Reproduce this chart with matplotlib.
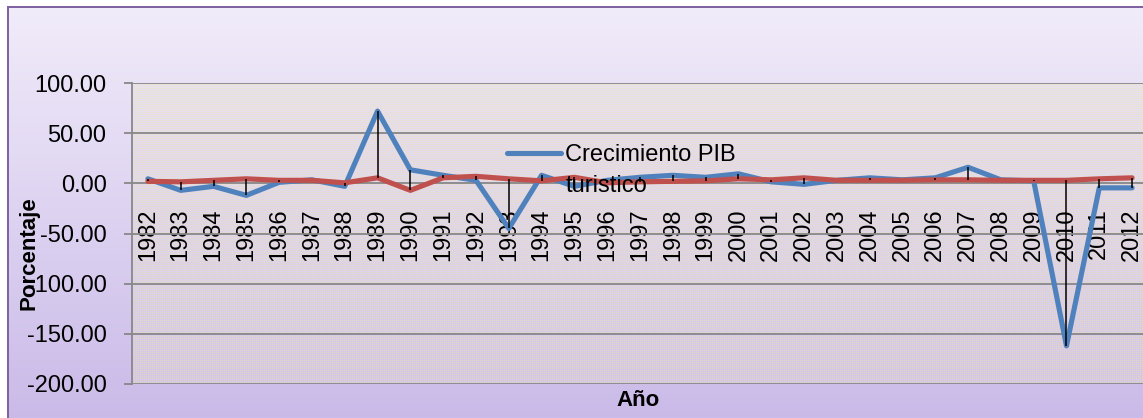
import numpy as np
import matplotlib
matplotlib.use("Agg")
import matplotlib.pyplot as plt
from matplotlib.ticker import FuncFormatter, FixedLocator

# ---- data ----
years = list(range(1982, 2013))
year_labels = [str(y) for y in years]
pib_turistico = [4.5, -7, -3, -12, 1, 3.5, -3, 72, 13.5, 8, 3, -45, 8, -3, 3, 6,
                 8, 6, 9.5, 1.5, -1, 3, 5.5, 3.5, 5.5, 16, 3.5, 2.5, -162, -4.5, -4.5]
serie_roja = [2, 1.5, 3, 4.5, 3, 3, 0.5, 5.5, -7, 5.5, 7, 4.5, 2.5, 6, 0.5, 1.5,
              2, 2.5, 4.5, 3.5, 5.5, 3, 3, 3, 3.5, 3.5, 3, 3, 3, 4.5, 5.5]
y_ticks = [-200, -150, -100, -50, 0, 50, 100]
legend_line1 = "Crecimiento PIB"
legend_line2 = "turistico"
y_title = "Porcentaje"
x_title = "Año"

plt.rcParams['font.family'] = ['Liberation Sans', 'DejaVu Sans']

W, H = 1143, 418
fig = plt.figure(figsize=(W / 100, H / 100), dpi=100)
fig.patch.set_alpha(0)

# ---- background (chart area gradient + patterned plot area) ----
yy = np.arange(H)[:, None, None].astype(float)
t = np.clip((yy - 6) / (H - 6), 0, 1)
top = np.array([241, 236, 250], float)
bot = np.array([202, 186, 232], float)
bg = (top * (1 - t) + bot * t) * np.ones((1, W, 1))
px0, py0, py1 = 132, 84, 384
yellow = np.array([242, 232, 140], float)
gray = np.array([228, 222, 222], float)
ygrid = np.arange(H)[:, None]
xgrid = np.arange(W)[None, :]
area = (ygrid >= py0) & (ygrid < py1) & (xgrid >= px0)
dots = (xgrid % 2 == 0) & (ygrid % 2 == 0)
bg[area] = bg[area] * 0.7 + gray * 0.3
bg[area & dots] = bg[area & dots] * 0.55 + yellow * 0.45
bg[:6, :] = 255
bg[:, :7] = 255
purple = np.array([128, 100, 162], float)
bg[6:8, 7:] = purple
bg[6:, 7:9] = purple
fig.figimage(np.clip(bg, 0, 255).astype(np.uint8), xo=0, yo=0,
             origin='upper', zorder=-10)

# ---- axes ----
left = 131.5 / W
ax = fig.add_axes([left, 1 - 384 / H, 1017 / W, 301 / H])
ax.set_facecolor('none')
x = np.arange(len(years))
ax.set_xlim(-0.5, len(years) - 0.5)
ax.set_ylim(-200, 100)

grid_c = '#878787'
ax.yaxis.set_major_locator(FixedLocator(y_ticks))
ax.yaxis.set_major_formatter(FuncFormatter(lambda v, p: f"{v:.2f}"))
ax.grid(axis='y', color=grid_c, lw=1.3, zorder=1)
ax.set_axisbelow(True)
for s in ['top', 'right']:
    ax.spines[s].set_visible(False)
ax.spines['left'].set_color(grid_c)
ax.spines['left'].set_linewidth(1.3)
ax.spines['bottom'].set_position(('data', 0))
ax.spines['bottom'].set_visible(False)

ax.set_xticks(x)
ax.set_xticklabels(year_labels)
ax.tick_params(axis='x', length=0, pad=18, labelrotation=90, labelsize=17)
ax.tick_params(axis='y', length=6, width=1.3, color=grid_c, pad=12, labelsize=17)

l_blue, = ax.plot(x, pib_turistico, color='#4F81BD', lw=3.7,
                  solid_joinstyle='round', solid_capstyle='round', zorder=3)
ax.plot(x, serie_roja, color='#C0504D', lw=3.7,
        solid_joinstyle='round', solid_capstyle='round', zorder=4)
lo = np.minimum(pib_turistico, serie_roja)
hi = np.maximum(pib_turistico, serie_roja)
ax.vlines(x, lo, hi, color='black', lw=1.1, zorder=5)

ax.set_ylabel(y_title, fontsize=16, fontweight='bold')
ax.yaxis.set_label_coords((29 - 131.5) / 1017, (384 - 253) / 301)
ax.yaxis.label.set_va('center')
ax.set_xlabel(x_title, fontsize=16, fontweight='bold')
ax.xaxis.set_label_coords((638.5 - 131.5) / 1017, (384 - 401) / 301)
ax.xaxis.label.set_va('center')

leg = ax.legend(handles=[l_blue], labels=[legend_line1], frameon=False,
                fontsize=17, handlelength=2.3, handletextpad=0.17,
                loc='upper left', bbox_to_anchor=(507 / W, 1 - 144 / H),
                bbox_transform=fig.transFigure, borderpad=0, borderaxespad=0)
leg.set_zorder(6)
fig.text(566 / W, 1 - 186 / H, legend_line2, fontsize=17,
         ha='left', va='center', zorder=6)

fig.savefig('out.png', dpi=100)
